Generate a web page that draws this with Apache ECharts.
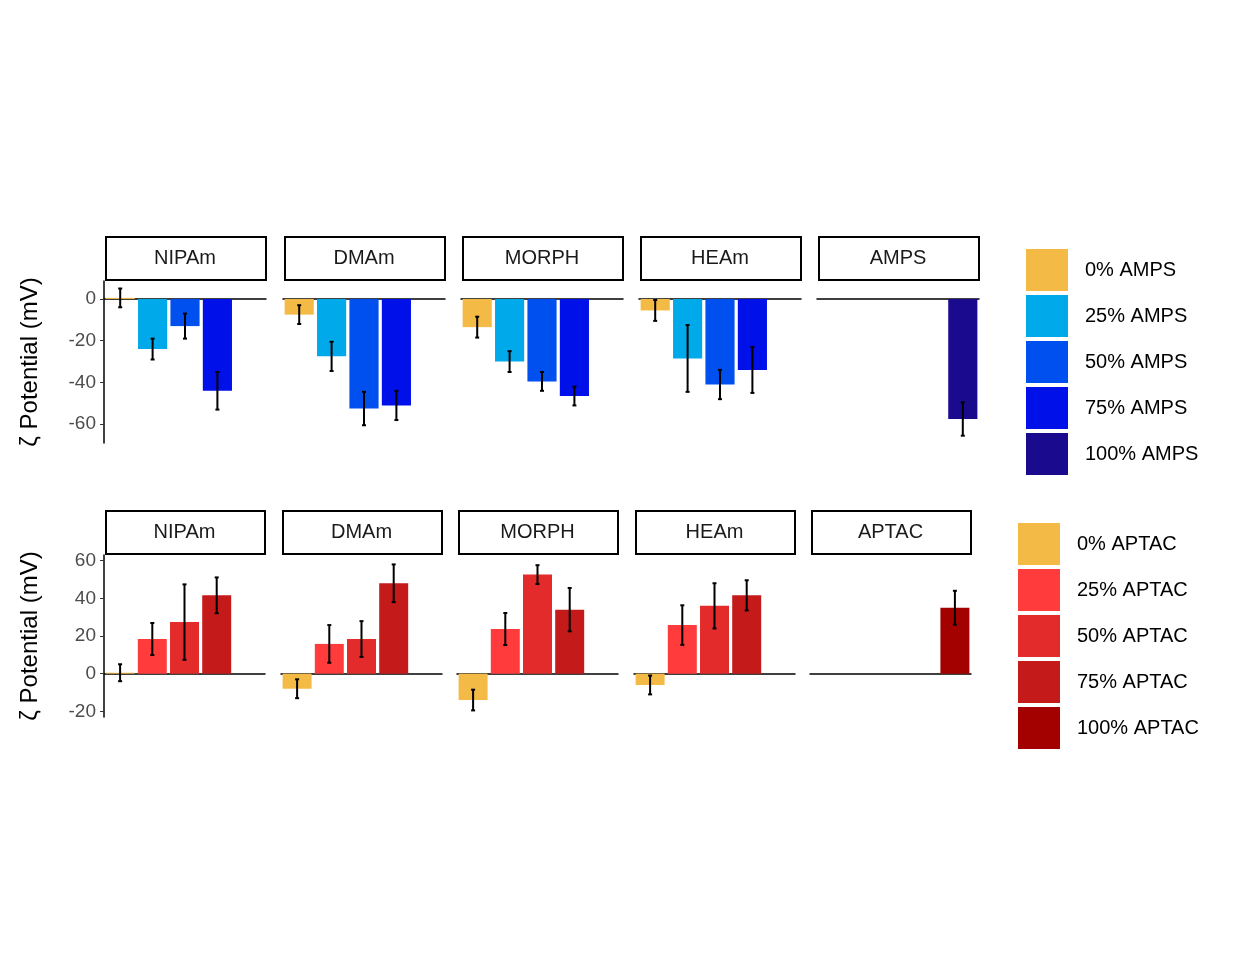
<!DOCTYPE html>
<html style="height: 100%">
<head>
<meta charset="utf-8">
<script src="https://cdn.jsdelivr.net/npm/echarts@6/dist/echarts.min.js"></script>
</head>
<body style="height: 100%; margin: 0">
<div id="container" style="width:1250px;height:960px"></div>
<script type="text/javascript">
var facets = ['NIPAm', 'DMAm', 'MORPH', 'HEAm'];
var levels = ['0%', '25%', '50%', '75%', '100%'];
var ampsColors = ['#F3BA45', '#00AAEA', '#0050F0', '#0010E8', '#1A0A8E'];
var aptacColors = ['#F3BA45', '#FF3B3B', '#E32B2B', '#C41A1A', '#A30000'];

// mean and error per facet, levels 0..75 ; last facet only 100%
var ampsMean = [[0.5, -24, -13, -44], [-7.5, -27.5, -52.5, -51], [-13.5, -30, -39.5, -46.5], [-5.5, -28.5, -41, -34]];
var ampsErr = [[4.5, 5, 6, 9], [4.5, 7, 8, 7], [5, 5, 4.5, 4.5], [5, 16, 7, 11]];
var amps100 = [-57.5, 8];
var aptacMean = [[0.5, 18.4, 27.4, 41.6], [-8, 15.8, 18.4, 48], [-14, 23.7, 52.6, 34], [-6, 25.8, 36, 41.6]];
var aptacErr = [[4.5, 8.5, 20, 9.5], [5, 10, 9.5, 10], [5.5, 8.5, 5, 11.5], [5, 10.5, 12, 8]];
var aptac100 = [35, 9];

var myChart = echarts.init(document.getElementById('container'));
var grids = [], xAxes = [], yAxes = [], series = [], graphic = [];
var rows = [
  {top: 281, height: 162, stripTop: 236, lefts: [104, 283, 461, 639, 817], width: 162,
   mean: ampsMean, err: ampsErr, last: amps100, lastName: 'AMPS', colors: ampsColors,
   min: -69, max: 8.6, ticks: [-60, -40, -20, 0], legendTop: 249, legendX: 1026, suffix: ' AMPS'},
  {top: 555, height: 162, stripTop: 510, lefts: [104, 281, 457, 634, 810], width: 161,
   mean: aptacMean, err: aptacErr, last: aptac100, lastName: 'APTAC', colors: aptacColors,
   min: -23, max: 63, ticks: [-20, 0, 20, 40, 60], legendTop: 523, legendX: 1018, suffix: ' APTAC'}
];

rows.forEach(function (r, ri) {
  r.lefts.forEach(function (left, fi) {
    var gi = grids.length;
    grids.push({left: left, top: r.top, width: r.width, height: r.height});
    xAxes.push({type: 'category', gridIndex: gi, data: levels,
      axisLine: {lineStyle: {color: '#000', width: 1.5}},
      axisTick: {alignWithLabel: true, length: 5, lineStyle: {color: '#333'}},
      axisLabel: {show: false}});
    yAxes.push({type: 'value', gridIndex: gi, min: r.min, max: r.max,
      name: fi === 0 ? 'ζ Potential (mV)' : '', nameLocation: 'middle', nameGap: 62,
      nameTextStyle: {fontSize: 24, color: '#000', fontFamily: 'Liberation Sans'},
      splitLine: {show: false},
      axisLine: {show: fi === 0, lineStyle: {color: '#000', width: 1.5}},
      axisTick: {show: fi === 0, length: 4, customValues: r.ticks, lineStyle: {color: '#333'}},
      axisLabel: {show: fi === 0, customValues: r.ticks, fontSize: 19, color: '#4d4d4d', fontFamily: 'Liberation Sans'}});
    var bars = [], errs = [];
    if (fi < 4) {
      r.mean[fi].forEach(function (m, k) {
        bars.push({value: m, itemStyle: {color: r.colors[k]}});
        errs.push([k, m - r.err[fi][k], m + r.err[fi][k]]);
      });
      bars.push('-');
    } else {
      bars = ['-', '-', '-', '-', {value: r.last[0], itemStyle: {color: r.colors[4]}}];
      errs.push([4, r.last[0] - r.last[1], r.last[0] + r.last[1]]);
    }
    series.push({type: 'bar', xAxisIndex: gi, yAxisIndex: gi, data: bars, barCategoryGap: '10%'});
    series.push({type: 'custom', xAxisIndex: gi, yAxisIndex: gi, data: errs, z: 5,
      renderItem: function (params, api) {
        var lo = api.coord([api.value(0), api.value(1)]);
        var hi = api.coord([api.value(0), api.value(2)]);
        var s = {stroke: '#000', lineWidth: 2};
        return {type: 'group', children: [
          {type: 'line', shape: {x1: lo[0], y1: lo[1], x2: hi[0], y2: hi[1]}, style: s},
          {type: 'line', shape: {x1: lo[0] - 2, y1: lo[1], x2: lo[0] + 2, y2: lo[1]}, style: s},
          {type: 'line', shape: {x1: hi[0] - 2, y1: hi[1], x2: hi[0] + 2, y2: hi[1]}, style: s}
        ]};
      }});
    graphic.push({type: 'rect', left: left + 1, top: r.stripTop,
      shape: {width: r.width - 2, height: 43}, style: {fill: '#fff', stroke: '#000', lineWidth: 2}});
    graphic.push({type: 'text', x: left + r.width / 2, y: r.stripTop + 22,
      style: {text: fi < 4 ? facets[fi] : r.lastName, fill: '#1a1a1a', fontSize: 20,
        fontFamily: 'Liberation Sans', align: 'center', verticalAlign: 'middle'}});
  });
  levels.forEach(function (lv, k) {
    var y = r.legendTop + k * 46;
    graphic.push({type: 'rect', left: r.legendX, top: y, shape: {width: 42, height: 42}, style: {fill: r.colors[k]}});
    graphic.push({type: 'text', x: r.legendX + 59, y: y + 21,
      style: {text: lv + r.suffix, fill: '#000', fontSize: 20, fontFamily: 'Liberation Sans', verticalAlign: 'middle'}});
  });
});

myChart.setOption({animation: false, grid: grids, xAxis: xAxes, yAxis: yAxes, series: series, graphic: graphic});
</script>
</body>
</html>
